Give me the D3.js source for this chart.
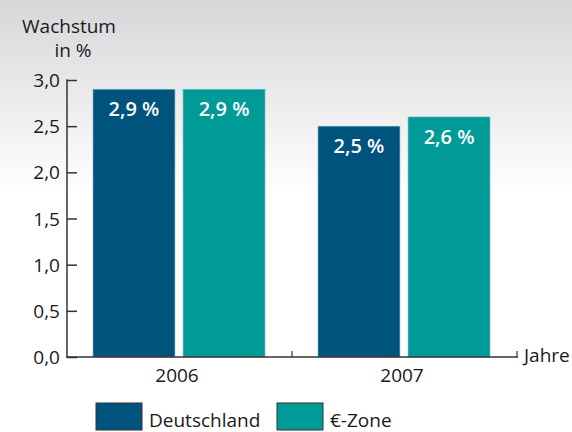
<!DOCTYPE html>
<html>
<head>
<meta charset="utf-8">
<script src="https://cdn.jsdelivr.net/npm/d3@7"></script>
<style>
  body { margin: 0; }
  svg { display: block; font-family: "Open Sans", "Noto Sans", sans-serif; }
</style>
</head>
<body>
<div id="chart"></div>
<script>
// data
var years = ["2006", "2007"];
var series = ["Deutschland", "€-Zone"];
var deValues = [2.9, 2.5];
var ezValues = [2.9, 2.6];
var barLabels = [["2,9 %", "2,9 %"], ["2,5 %", "2,6 %"]];
var yTicks = [0, 0.5, 1.0, 1.5, 2.0, 2.5, 3.0];
var yTickLabels = ["0,0", "0,5", "1,0", "1,5", "2,0", "2,5", "3,0"];

var colors = ["#00537c", "#009b97"];
var width = 572, height = 432;

var svg = d3.select('#chart').append('svg')
  .attr('width', width)
  .attr('height', height);

// background gradient
var grad = svg.append('defs').append('linearGradient')
  .attr('id', 'bg').attr('x1', 0).attr('y1', 0).attr('x2', 0).attr('y2', 1);
grad.append('stop').attr('offset', '0').attr('stop-color', '#d6d7d9');
grad.append('stop').attr('offset', '0.45').attr('stop-color', '#ffffff');
grad.append('stop').attr('offset', '1').attr('stop-color', '#ffffff');
svg.append('rect').attr('width', width).attr('height', height).attr('fill', 'url(#bg)');

var y = d3.scaleLinear().domain([0, 3]).range([357, 80]);
var x0 = d3.scaleBand().domain(years).range([67, 517]).paddingInner(0).paddingOuter(0);
var x1 = d3.scaleBand().domain(series).range([26, 198]).paddingInner(0.09);

// y axis
var yAxis = d3.axisRight(y).tickValues(yTicks).tickSize(10)
  .tickFormat(function(d, i) { return ''; });
var gy = svg.append('g').attr('transform', 'translate(67,0)').call(yAxis);
gy.select('.domain').remove();
gy.selectAll('.tick line').attr('stroke', '#333').attr('stroke-width', 1.5);
svg.append('line').attr('x1', 67).attr('x2', 67).attr('y1', y(3) - 0.75).attr('y2', y(0))
  .attr('stroke', '#333').attr('stroke-width', 1.5);
svg.selectAll('.ylab').data(yTicks).enter().append('text')
  .attr('x', 60).attr('y', function(d) { return y(d) + 7; })
  .attr('text-anchor', 'end').attr('font-size', 19).attr('fill', '#1a1a1a')
  .text(function(d, i) { return yTickLabels[i]; });

// bars
var groups = svg.selectAll('.grp').data(years).enter().append('g')
  .attr('transform', function(d) { return 'translate(' + x0(d) + ',0)'; });

groups.each(function(yr, i) {
  var vals = [deValues[i], ezValues[i]];
  var g = d3.select(this);
  g.selectAll('rect').data(vals).enter().append('rect')
    .attr('x', function(d, j) { return x1(series[j]); })
    .attr('y', function(d) { return y(d); })
    .attr('width', x1.bandwidth())
    .attr('height', function(d) { return y(0) - y(d); })
    .attr('fill', function(d, j) { return colors[j]; })
    .attr('stroke', '#7fb3c8').attr('stroke-width', 0.6);
  g.selectAll('text').data(vals).enter().append('text')
    .attr('x', function(d, j) { return x1(series[j]) + x1.bandwidth() / 2; })
    .attr('y', function(d) { return y(d) + 27; })
    .attr('text-anchor', 'middle').attr('font-size', 20).attr('font-weight', 600)
    .attr('fill', '#fff')
    .text(function(d, j) { return barLabels[i][j]; });
});

// x axis
svg.append('line').attr('x1', 66).attr('x2', 518).attr('y1', y(0)).attr('y2', y(0))
  .attr('stroke', '#333').attr('stroke-width', 1.5);
var xTickPos = [x0("2007"), 517];
svg.selectAll('.xt').data(xTickPos).enter().append('line')
  .attr('x1', function(d) { return d; }).attr('x2', function(d) { return d; })
  .attr('y1', y(0)).attr('y2', y(0) - 6)
  .attr('stroke', '#333').attr('stroke-width', 1.2);
svg.selectAll('.xlab').data(years).enter().append('text')
  .attr('x', function(d) { return x0(d) + 26 + 86 - 2; })
  .attr('y', 382).attr('text-anchor', 'middle').attr('font-size', 19).attr('fill', '#1a1a1a')
  .text(function(d) { return d; });
svg.append('text').attr('x', 524).attr('y', 362).attr('font-size', 19).attr('fill', '#1a1a1a').text('Jahre');

// title
svg.append('text').attr('x', 69).attr('y', 33).attr('text-anchor', 'middle')
  .attr('font-size', 19).attr('fill', '#1a1a1a').text('Wachstum');
svg.append('text').attr('x', 73).attr('y', 57).attr('text-anchor', 'middle')
  .attr('font-size', 19).attr('fill', '#1a1a1a').text('in %');

// legend
var legX = [96, 277];
var leg = svg.selectAll('.leg').data(series).enter().append('g')
  .attr('transform', function(d, i) { return 'translate(' + legX[i] + ',403)'; });
leg.append('rect').attr('width', 46).attr('height', 27)
  .attr('fill', function(d, i) { return colors[i]; })
  .attr('stroke', '#333').attr('stroke-width', 1);
leg.append('text').attr('x', 53).attr('y', 24).attr('font-size', 19).attr('fill', '#1a1a1a')
  .text(function(d) { return d; });
</script>
</body>
</html>
